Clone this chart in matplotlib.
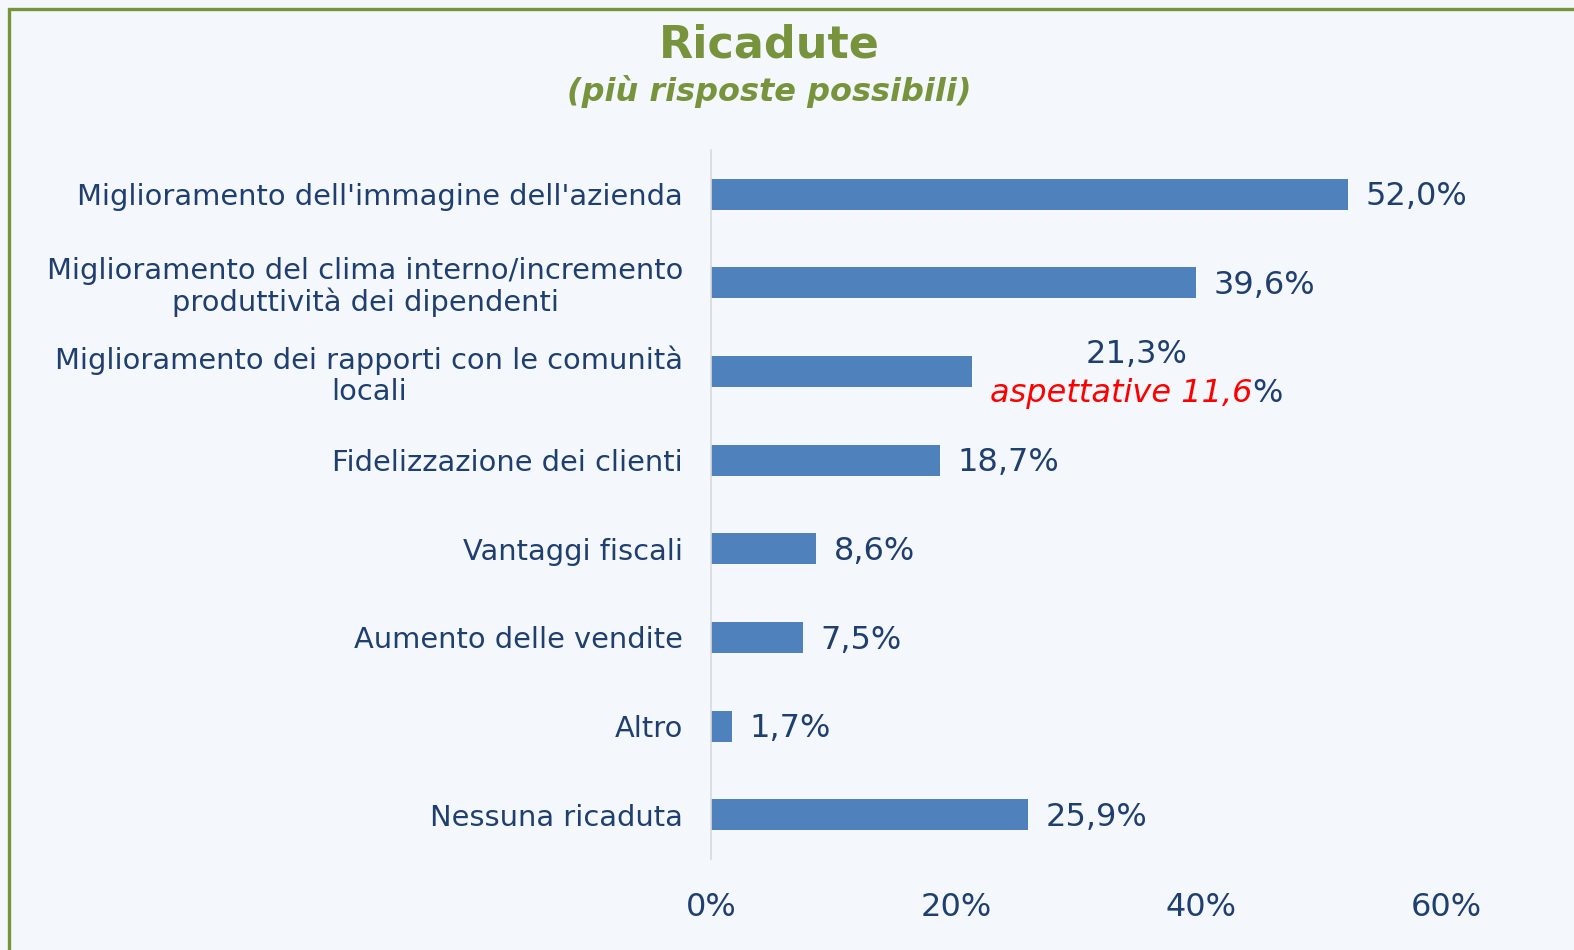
import numpy as np
import matplotlib.pyplot as plt
from matplotlib.patches import Rectangle

# dati
categorie = [
    "Miglioramento dell'immagine dell'azienda",
    "Miglioramento del clima interno/incremento\nproduttività dei dipendenti",
    "Miglioramento dei rapporti con le comunità\nlocali",
    "Fidelizzazione dei clienti",
    "Vantaggi fiscali",
    "Aumento delle vendite",
    "Altro",
    "Nessuna ricaduta",
]
valori = [52.0, 39.6, 21.3, 18.7, 8.6, 7.5, 1.7, 25.9]
tick_valori = [0, 20, 40, 60]
aspettative = 11.6

blu = '#4F81BD'
testo = '#1F3F6E'
verde = '#77933C'

W, H = 1574, 950
fig = plt.figure(figsize=(W / 100, H / 100), dpi=100)
fig.patch.set_facecolor('#F4F7FB')

# cornice verde (solo sopra e a sinistra visibili)
fig.add_artist(Rectangle((9 / W, -0.05), 1.1, 1.05 - 9 / H,
                         transform=fig.transFigure, fill=False,
                         edgecolor=verde, linewidth=2.4))

ax = fig.add_axes([711 / W, 1 - 859 / H, (1446 - 711) / W, (859 - 150) / H])
ax.set_facecolor('none')

y = np.arange(len(categorie))
ax.barh(y, valori, height=0.35, color=blu)
ax.set_xlim(0, 60)
ax.set_ylim(len(categorie) - 0.5, -0.5)

ax.set_yticks(y)
ax.set_yticklabels(categorie, fontsize=20.8, color=testo, ha='right',
                   multialignment='center', linespacing=1.1)
ax.tick_params(axis='y', length=0, pad=20)
ax.set_xticks(tick_valori)
ax.set_xticklabels([str(t) + '%' for t in tick_valori], fontsize=23, color=testo)
ax.tick_params(axis='x', length=0, pad=24)

for s in ['top', 'right', 'bottom']:
    ax.spines[s].set_visible(False)
ax.spines['left'].set_color('#D9D9D9')
ax.spines['left'].set_linewidth(1.2)

# etichette dei valori
for i, v in enumerate(valori):
    lab = ('%.1f' % v).replace('.', ',') + '%'
    if i == 2:
        ax.text(34.7, i - 0.19, lab, fontsize=23, color=testo, ha='center', va='center')
        ax.text(44.2, i + 0.25, 'aspettative ' + ('%.1f' % aspettative).replace('.', ','),
                fontsize=23, color='red', style='italic', ha='right', va='center')
        ax.text(44.2, i + 0.25, '%', fontsize=23, color=testo, ha='left', va='center')
    else:
        ax.text(v + 1.4, i + 0.03, lab, fontsize=23, color=testo, ha='left', va='center')

# titolo
fig.text(769 / W, 1 - 45 / H, 'Ricadute', fontsize=32, fontweight='bold',
         color=verde, ha='center', va='center')
fig.text(769 / W, 1 - 92 / H, '(più risposte possibili)', fontsize=23,
         fontweight='bold', style='italic', color=verde, ha='center', va='center')

plt.savefig('out.png', dpi=100, facecolor=fig.get_facecolor())
